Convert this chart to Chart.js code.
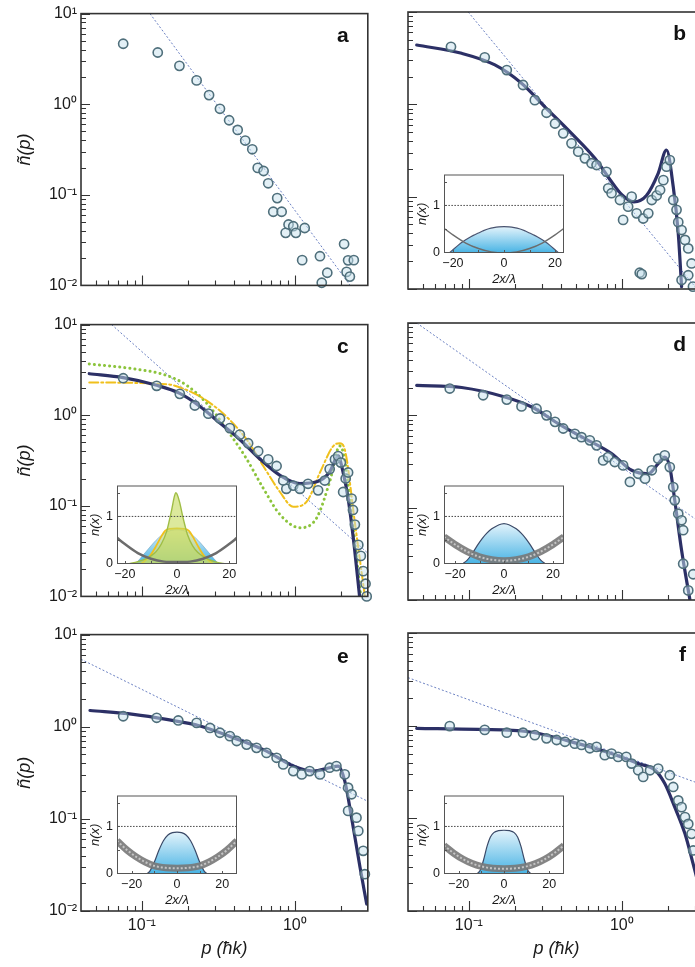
<!DOCTYPE html>
<html>
<head>
<meta charset="utf-8">
<title>Momentum distributions and density profiles</title>
<script src="https://cdn.jsdelivr.net/npm/chart.js@4.4.1/dist/chart.umd.min.js"></script>
<style>
  html, body { margin: 0; padding: 0; background: #fff; }
  body { width: 695px; height: 967px; overflow: hidden; position: relative; }
  canvas { position: absolute; }
</style>
</head>
<body>
<canvas id="mainA"></canvas>
<canvas id="mainB"></canvas>
<canvas id="mainC"></canvas>
<canvas id="mainD"></canvas>
<canvas id="mainE"></canvas>
<canvas id="mainF"></canvas>
<canvas id="insetB"></canvas>
<canvas id="insetC"></canvas>
<canvas id="insetD"></canvas>
<canvas id="insetE"></canvas>
<canvas id="insetF"></canvas>
<script>
// ---------- momentum distributions ñ(p), p in units of ħk ----------
const xMajorTicks = [0.1, 1];
const yMajorTicks = [0.01, 0.1, 1, 10];

// panel a
const dotsA = [[0.0755,4.65],[0.127,3.72],[0.176,2.65],[0.228,1.83],[0.275,1.26],[0.324,0.89],[0.372,0.665],[0.423,0.52],[0.474,0.397],[0.527,0.318],[0.572,0.198],[0.625,0.183],[0.670,0.134],[0.767,0.092],[0.723,0.065],[0.82,0.065],[0.91,0.047],[0.871,0.038],[0.977,0.045],[1.016,0.038],[1.16,0.043],[1.117,0.019],[1.46,0.021],[1.63,0.0138],[1.50,0.0107],[2.10,0.0286],[2.23,0.0189],[2.18,0.0141],[2.43,0.019],[2.29,0.0125]];
const guideA = [[0.113,10],[2.3,0.01]];

// panel b
const dotsB = [[0.0764,4.2],[0.127,3.23],[0.177,2.35],[0.226,1.62],[0.270,1.11],[0.322,0.81],[0.366,0.62],[0.414,0.485],[0.469,0.378],[0.519,0.307],[0.574,0.26],[0.634,0.23],[0.684,0.22],[0.794,0.186],[0.815,0.123],[0.857,0.109],[0.973,0.092],[1.10,0.078],[1.02,0.056],[1.16,0.1],[1.25,0.066],[1.38,0.058],[1.49,0.066],[1.57,0.092],[1.69,0.103],[1.78,0.118],[1.87,0.151],[1.96,0.211],[2.06,0.249],[2.17,0.092],[2.28,0.072],[2.34,0.053],[2.46,0.0435],[2.59,0.034],[2.72,0.0275],[2.86,0.0189],[2.72,0.0141],[2.92,0.0106],[2.46,0.0125],[1.31,0.015],[1.35,0.0145]];
const fitB = [[0.0456,4.39],[0.0897,3.57],[0.148,2.67],[0.221,1.69],[0.314,0.94],[0.469,0.485],[0.667,0.26],[0.857,0.145],[1.0,0.105],[1.2,0.088],[1.45,0.103],[1.73,0.179],[1.96,0.32],[2.17,0.128],[2.34,0.04],[2.46,0.0106]];
const guideB = [[0.099,10],[3.1,0.01]];

// panel c
const dotsC = [[0.0755,2.56],[0.125,2.11],[0.177,1.72],[0.222,1.28],[0.272,1.04],[0.324,0.92],[0.376,0.72],[0.437,0.61],[0.495,0.49],[0.576,0.40],[0.67,0.325],[0.76,0.275],[0.84,0.19],[0.88,0.154],[0.977,0.167],[1.08,0.154],[1.22,0.175],[1.42,0.148],[1.57,0.19],[1.69,0.254],[1.83,0.325],[1.92,0.353],[2.0,0.3],[2.07,0.142],[2.15,0.2],[2.23,0.233],[2.35,0.12],[2.4,0.09],[2.47,0.062],[2.60,0.037],[2.7,0.028],[2.80,0.019],[2.90,0.0138],[2.95,0.01]];
const fitC = [[0.0453,2.87],[0.0755,2.6],[0.125,2.14],[0.177,1.74],[0.24,1.25],[0.324,0.82],[0.437,0.54],[0.591,0.329],[0.8,0.217],[1.08,0.176],[1.39,0.184],[1.69,0.236],[1.92,0.357],[2.05,0.25],[2.23,0.121],[2.45,0.035],[2.65,0.01]];
const greenC = [[0.0453,3.68],[0.088,3.25],[0.145,2.75],[0.196,2.14],[0.265,1.36],[0.358,0.70],[0.484,0.329],[0.622,0.156],[0.80,0.080],[1.08,0.0573],[1.39,0.0736],[1.69,0.184],[1.97,0.459],[2.1,0.35],[2.4,0.06],[2.7,0.01]];
const yellowC = [[0.0453,2.3],[0.145,2.2],[0.196,1.9],[0.265,1.45],[0.358,0.96],[0.484,0.54],[0.622,0.275],[0.80,0.142],[0.977,0.0975],[1.19,0.11],[1.46,0.233],[1.78,0.454],[1.97,0.49],[2.12,0.42],[2.47,0.065],[2.87,0.01]];
const guideC = [[0.0634,10],[3,0.03]];

// panel d
const dotsD = [[0.075,1.95],[0.124,1.65],[0.177,1.48],[0.221,1.25],[0.277,1.18],[0.322,1.0],[0.366,0.85],[0.414,0.72],[0.493,0.63],[0.545,0.58],[0.618,0.536],[0.684,0.473],[0.755,0.325],[0.815,0.353],[0.90,0.312],[1.02,0.287],[1.13,0.19],[1.28,0.233],[1.42,0.206],[1.57,0.254],[1.73,0.339],[1.91,0.369],[2.06,0.275],[2.17,0.167],[2.22,0.12],[2.34,0.086],[2.46,0.073],[2.52,0.057],[2.52,0.0247],[2.72,0.0127],[2.93,0.019]];
const fitD = [[0.0456,2.11],[0.0897,2.0],[0.172,1.58],[0.258,1.23],[0.385,0.81],[0.574,0.56],[0.857,0.385],[1.16,0.254],[1.49,0.233],[1.73,0.30],[1.91,0.353],[2.06,0.275],[2.22,0.12],[2.46,0.0345],[2.79,0.01]];
const guideD = [[0.0456,10],[3.5,0.0636]];

// panel e
const dotsE = [[0.0755,1.30],[0.125,1.25],[0.173,1.17],[0.228,1.10],[0.279,0.97],[0.324,0.86],[0.376,0.79],[0.417,0.70],[0.484,0.64],[0.562,0.59],[0.653,0.52],[0.76,0.46],[0.84,0.39],[0.977,0.33],[1.11,0.304],[1.25,0.33],[1.46,0.304],[1.69,0.359],[1.87,0.374],[2.12,0.304],[2.23,0.218],[2.35,0.185],[2.23,0.122],[2.53,0.103],[2.60,0.074],[2.80,0.045],[2.87,0.0251]];
const fitE = [[0.0458,1.50],[0.088,1.36],[0.145,1.20],[0.24,1.02],[0.396,0.76],[0.653,0.544],[0.977,0.374],[1.32,0.33],[1.69,0.359],[1.92,0.374],[2.12,0.258],[2.35,0.103],[2.67,0.0296],[2.95,0.0119]];
const guideE = [[0.04,5.4],[3,0.155]];

// panel f
const dotsF = [[0.075,0.99],[0.127,0.90],[0.177,0.84],[0.226,0.84],[0.27,0.79],[0.322,0.73],[0.375,0.70],[0.425,0.67],[0.493,0.64],[0.545,0.62],[0.618,0.57],[0.684,0.59],[0.774,0.48],[0.857,0.50],[0.946,0.46],[1.07,0.46],[1.16,0.39],[1.28,0.33],[1.38,0.28],[1.53,0.33],[1.73,0.344],[2.06,0.292],[2.17,0.218],[2.34,0.156],[2.46,0.132],[2.59,0.103],[2.72,0.087],[2.86,0.068],[2.93,0.045]];
const fitF = [[0.0456,0.935],[0.115,0.91],[0.245,0.86],[0.519,0.64],[0.857,0.50],[1.28,0.39],[1.65,0.33],[1.91,0.237],[2.22,0.132],[2.59,0.068],[2.93,0.032],[3.3,0.015]];
const guideF = [[0.04,3.3],[3.5,0.225]];

// ---------- in-trap density profiles n(x) vs 2x/λ ----------
const insetXTicks = [-20, 0, 20];
const insetYTicks = [0, 1];
const unitLevel = [[-30,1],[30,1]];

const trapB = [[-23.5,0.52],[-20,0.38],[-15,0.21],[-10,0.095],[-5,0.024],[0,0],[5,0.024],[10,0.095],[15,0.21],[20,0.38],[23.5,0.52]];
const densB = [[-21.5,0],[-20,0.07],[-18,0.16],[-16,0.24],[-14,0.31],[-12,0.37],[-10,0.42],[-8,0.47],[-6,0.51],[-4,0.535],[-2,0.55],[0,0.555],[2,0.55],[4,0.535],[6,0.51],[8,0.47],[10,0.42],[12,0.37],[14,0.31],[16,0.24],[18,0.16],[20,0.07],[21.5,0]];

const trapC = [[-23,0.55],[-20,0.42],[-15,0.23],[-10,0.11],[-5,0.05],[0,0.04],[5,0.05],[10,0.11],[15,0.23],[20,0.42],[23,0.55]];
const blueC = [[-16,0],[-14,0.12],[-12,0.25],[-10,0.38],[-8,0.5],[-6,0.6],[-4,0.67],[-2,0.71],[0,0.72],[2,0.71],[4,0.67],[6,0.6],[8,0.5],[10,0.38],[12,0.25],[14,0.12],[16,0]];
const yellowInC = [[-14,0],[-12,0.08],[-10,0.2],[-8,0.38],[-6,0.58],[-4.5,0.7],[-3,0.74],[0,0.75],[3,0.74],[4.5,0.7],[6,0.58],[8,0.38],[10,0.2],[12,0.08],[14,0]];
const greenInC = [[-19,0],[-17,0.02],[-15,0.05],[-12,0.11],[-10,0.17],[-8,0.26],[-6,0.42],[-4,0.68],[-3,0.9],[-2,1.15],[-1,1.42],[-0.5,1.5],[0,1.47],[1,1.3],[2,1.05],[3,0.82],[4,0.62],[6,0.38],[8,0.24],[10,0.16],[12,0.1],[15,0.04],[17,0.015],[19,0]];

const trapD = [[-24.5,0.57],[-20,0.41],[-15,0.26],[-10,0.15],[-5,0.09],[0,0.07],[5,0.09],[10,0.15],[15,0.26],[20,0.41],[24.5,0.57]];
const densD = [[-17,0],[-15,0.08],[-13,0.22],[-11,0.38],[-9,0.53],[-7,0.65],[-5,0.74],[-3,0.8],[-1,0.84],[0,0.85],[1,0.84],[3,0.8],[5,0.74],[7,0.65],[9,0.53],[11,0.38],[13,0.22],[15,0.08],[17,0]];

const trapE = [[-26.5,0.7],[-22,0.5],[-18,0.36],[-14,0.25],[-10,0.17],[-5,0.13],[0,0.12],[5,0.13],[10,0.17],[14,0.25],[18,0.36],[22,0.5],[26.5,0.7]];
const densE = [[-13.5,0],[-12,0.06],[-10,0.25],[-8,0.5],[-6,0.7],[-4,0.82],[-2,0.87],[0,0.88],[2,0.87],[4,0.82],[6,0.7],[8,0.5],[10,0.25],[12,0.06],[13.5,0]];

const trapF = [[-26.5,0.6],[-22,0.43],[-18,0.31],[-14,0.22],[-10,0.16],[-5,0.12],[0,0.11],[5,0.12],[10,0.16],[14,0.22],[18,0.31],[22,0.43],[26.5,0.6]];
const densF = [[-12,0],[-10.5,0.08],[-9,0.3],[-7.5,0.58],[-6,0.78],[-4.5,0.87],[-2.5,0.91],[0,0.92],[2.5,0.91],[4.5,0.87],[6,0.78],[7.5,0.58],[9,0.3],[10.5,0.08],[12,0]];

// ---------- styling ----------
const FONT = "'Liberation Sans', Arial, Helvetica, sans-serif";
Chart.defaults.font.family = FONT;
Chart.defaults.color = '#1a1a1a';
Chart.defaults.animation = false;

const NAVY = '#2c3066';
const DOT_EDGE = '#4f6f7b';
const DOT_FILL = 'rgba(200,226,238,0.5)';
const GUIDE = '#6b80c2';
const GREEN = '#8cc43c';
const YELLOW = '#f0c01c';

const SUP = {'-':'\u207B','0':'\u2070','1':'\u00B9','2':'\u00B2','3':'\u00B3'};
function decadeLabel(v) {
  const e = Math.round(Math.log10(v));
  return '10' + String(e).split('').map(c => SUP[c]).join('');
}
const xy = arr => arr.map(([x, y]) => ({x, y}));

function dotsSet(arr) {
  return { data: xy(arr), showLine: false, pointRadius: 4.6, pointBorderWidth: 1.6,
           pointBorderColor: DOT_EDGE, pointBackgroundColor: DOT_FILL, clip: 6 };
}
function curveSet(arr, color, width, dash) {
  return { data: xy(arr), showLine: true, pointRadius: 0, borderColor: color, borderWidth: width,
           borderDash: dash || [], borderCapStyle: 'round', cubicInterpolationMode: 'monotone',
           fill: false, clip: 0 };
}
function guideSet(arr) {
  return { data: xy(arr), showLine: true, pointRadius: 0, borderColor: GUIDE, borderWidth: 1,
           borderDash: [2, 2], tension: 0, fill: false, clip: 0 };
}

// frame, inward log ticks and panel letter
function panelFrame(letter) {
  return {
    id: 'panelFrame',
    afterDatasetsDraw(chart) {
      const {ctx, chartArea: a} = chart;
      const xs = chart.scales.x, ys = chart.scales.y;
      ctx.save();
      ctx.strokeStyle = '#333';
      ctx.lineWidth = 1.1;
      ctx.beginPath();
      for (let e = -2; e <= 1; e++) for (let m = 1; m < 10; m++) {
        const v = m * Math.pow(10, e);
        if (v < ys.min || v > ys.max) continue;
        const py = Math.round(ys.getPixelForValue(v)) + 0.5;
        const len = m === 1 ? 9 : 5;
        ctx.moveTo(a.left, py); ctx.lineTo(a.left + len, py);
      }
      for (let e = -2; e <= 0; e++) for (let m = 1; m < 10; m++) {
        const v = m * Math.pow(10, e);
        if (v <= xs.min || v >= xs.max) continue;
        const px = Math.round(xs.getPixelForValue(v)) + 0.5;
        const len = m === 1 ? 10 : 5;
        ctx.moveTo(px, a.bottom); ctx.lineTo(px, a.bottom - len);
      }
      ctx.stroke();
      ctx.lineWidth = 1.6;
      ctx.strokeRect(a.left, a.top, a.right - a.left, a.bottom - a.top);
      ctx.fillStyle = '#111';
      ctx.font = 'bold 21px ' + FONT;
      ctx.textAlign = 'right';
      ctx.textBaseline = 'alphabetic';
      ctx.fillText(letter, a.right - 19, a.top + 28);
      ctx.restore();
    }
  };
}

const COLS = [
  { canvasLeft: 0,   axisW: 81, plotW: 287, padR: 6,  xMax: 3.0 },
  { canvasLeft: 375, axisW: 33, plotW: 297, padR: 10, xMax: 3.5 }
];
const ROWS = [
  { canvasTop: 0,   plotH: 277, axisH: 10 },
  { canvasTop: 311, plotH: 277, axisH: 10 },
  { canvasTop: 621, plotH: 278, axisH: 56 }
];

function sizeCanvas(cv, left, top, w, h) {
  cv.width = w; cv.height = h;
  cv.style.left = left + 'px'; cv.style.top = top + 'px';
  cv.style.width = w + 'px'; cv.style.height = h + 'px';
}

function mainPanel(id, col, row, letter, datasets) {
  const c = COLS[col], r = ROWS[row];
  const showY = col === 0, showX = row === 2;
  const cv = document.getElementById(id);
  const w = c.axisW + c.plotW + c.padR;
  const h = 12 + r.plotH + r.axisH;
  sizeCanvas(cv, c.canvasLeft, r.canvasTop, w, h);
  return new Chart(cv, {
    type: 'scatter',
    data: { datasets },
    plugins: [panelFrame(letter)],
    options: {
      responsive: false, maintainAspectRatio: false, devicePixelRatio: 1, events: [],
      layout: { padding: { top: 12, right: c.padR, left: 0, bottom: 0 } },
      plugins: { legend: { display: false }, tooltip: { enabled: false } },
      scales: {
        x: {
          type: 'logarithmic', min: 0.04, max: c.xMax, position: 'bottom',
          grid: { display: false, drawTicks: false }, border: { display: false },
          ticks: { display: showX, autoSkip: false, maxRotation: 0, padding: 5,
                   font: { size: 16 }, color: '#1a1a1a', callback: v => decadeLabel(v) },
          afterBuildTicks: s => { s.ticks = xMajorTicks.map(v => ({ value: v })); },
          afterFit: s => { s.height = r.axisH; },
          title: { display: showX, text: 'p (ħk)', font: { size: 18, style: 'italic' },
                   color: '#1a1a1a', padding: { top: 0, bottom: 7 } }
        },
        y: {
          type: 'logarithmic', min: 0.01, max: 10, position: 'left',
          grid: { display: false, drawTicks: false }, border: { display: false },
          ticks: { display: showY, autoSkip: false, padding: 4,
                   font: { size: 16 }, color: '#1a1a1a', callback: v => decadeLabel(v) },
          afterBuildTicks: s => { s.ticks = yMajorTicks.map(v => ({ value: v })); },
          afterFit: s => { s.width = c.axisW; },
          title: { display: showY, text: 'ñ(p)', font: { size: 18, style: 'italic' },
                   color: '#1a1a1a', padding: { top: 14, bottom: 0 } }
        }
      }
    }
  });
}

// ---------- insets ----------
function insetFrame() {
  return {
    id: 'insetFrame',
    beforeDatasetsDraw(chart) {
      const {ctx, chartArea: a} = chart;
      ctx.save(); ctx.fillStyle = '#fff';
      ctx.fillRect(a.left, a.top, a.right - a.left, a.bottom - a.top);
      ctx.restore();
    },
    afterDatasetsDraw(chart) {
      const {ctx, chartArea: a} = chart;
      const xs = chart.scales.x, ys = chart.scales.y;
      ctx.save();
      ctx.strokeStyle = '#555'; ctx.lineWidth = 1;
      ctx.beginPath();
      for (const v of [-20, -10, 0, 10, 20]) {
        const px = Math.round(xs.getPixelForValue(v)) + 0.5;
        ctx.moveTo(px, a.bottom); ctx.lineTo(px, a.bottom - 3);
      }
      for (const v of [0.5, 1, 1.5]) {
        const py = Math.round(ys.getPixelForValue(v)) + 0.5;
        ctx.moveTo(a.left, py); ctx.lineTo(a.left + 3, py);
      }
      ctx.stroke();
      ctx.strokeRect(a.left + 0.5, a.top + 0.5, a.right - a.left - 1, a.bottom - a.top - 1);
      ctx.restore();
    }
  };
}

function blueGradient(arr) {
  const peak = Math.max(...arr.map(p => p[1]));
  return (context) => {
    const ch = context.chart;
    if (!ch.chartArea) return 'rgba(120,200,235,0.6)';
    const y0 = ch.scales.y.getPixelForValue(0);
    const y1 = ch.scales.y.getPixelForValue(peak);
    const g = ch.ctx.createLinearGradient(0, y1, 0, y0);
    g.addColorStop(0, '#e3f3fb');
    g.addColorStop(1, '#47b3e4');
    return g;
  };
}
function levelSet() {
  return { data: xy(unitLevel), showLine: true, pointRadius: 0, borderColor: '#444',
           borderWidth: 1, borderDash: [1.5, 1.5], tension: 0, clip: 0 };
}
function thinTrap(arr, width) {
  return { data: xy(arr), showLine: true, pointRadius: 0, borderColor: '#6c6c6c',
           borderWidth: width, cubicInterpolationMode: 'monotone', clip: 0 };
}
function bandTrap(arr) {
  return [
    { data: xy(arr), showLine: true, pointRadius: 0, borderColor: 'rgba(200,200,200,0.95)',
      borderWidth: 2, borderDash: [2, 2], cubicInterpolationMode: 'monotone', clip: 0 },
    { data: xy(arr), showLine: true, pointRadius: 0, borderColor: 'rgba(120,120,120,0.9)',
      borderWidth: 7, cubicInterpolationMode: 'monotone', clip: 0 }
  ];
}
function domeSet(arr, edge, fillColor, width) {
  return { data: xy(arr), showLine: true, pointRadius: 0, borderColor: edge, borderWidth: width || 1.2,
           backgroundColor: fillColor || blueGradient(arr), fill: 'origin',
           cubicInterpolationMode: 'monotone', clip: 0 };
}

function insetPanel(id, col, row, halfRange, datasets) {
  const c = COLS[col], r = ROWS[row];
  const frameLeft = c.canvasLeft + c.axisW + 36;
  const frameTop = r.canvasTop + 12 + 155;
  const cv = document.getElementById(id);
  sizeCanvas(cv, frameLeft - 42, frameTop - 4, 168, 124);
  return new Chart(cv, {
    type: 'scatter',
    data: { datasets },
    plugins: [insetFrame()],
    options: {
      responsive: false, maintainAspectRatio: false, devicePixelRatio: 1, events: [],
      layout: { padding: { top: 4, right: 6, left: 0, bottom: 0 } },
      plugins: { legend: { display: false }, tooltip: { enabled: false } },
      scales: {
        x: {
          type: 'linear', min: -halfRange, max: halfRange,
          grid: { display: false, drawTicks: false }, border: { display: false },
          ticks: { autoSkip: false, maxRotation: 0, padding: 3, font: { size: 12.5 }, color: '#1a1a1a',
                   callback: v => (v < 0 ? '\u2212' + Math.abs(v) : String(v)) },
          afterBuildTicks: s => { s.ticks = insetXTicks.map(v => ({ value: v })); },
          afterFit: s => { s.height = 34; },
          title: { display: true, text: '2x/λ', font: { size: 13, style: 'italic' },
                   color: '#1a1a1a', padding: { top: 0, bottom: 0 } }
        },
        y: {
          type: 'linear', min: 0, max: 1.65,
          grid: { display: false, drawTicks: false }, border: { display: false },
          ticks: { autoSkip: false, padding: 4, font: { size: 12.5 }, color: '#1a1a1a' },
          afterBuildTicks: s => { s.ticks = insetYTicks.map(v => ({ value: v })); },
          afterFit: s => { s.width = 42; },
          title: { display: true, text: 'n(x)', font: { size: 13, style: 'italic' },
                   color: '#1a1a1a', padding: { top: 13, bottom: 0 } }
        }
      }
    }
  });
}

// ---------- build panels ----------
mainPanel('mainA', 0, 0, 'a', [dotsSet(dotsA), guideSet(guideA)]);
mainPanel('mainB', 1, 0, 'b', [dotsSet(dotsB), curveSet(fitB, NAVY, 3.2), guideSet(guideB)]);
mainPanel('mainC', 0, 1, 'c', [
  dotsSet(dotsC), curveSet(fitC, NAVY, 3.2),
  curveSet(yellowC, YELLOW, 2, [9, 3, 2, 3]), curveSet(greenC, GREEN, 3, [0.1, 5]),
  guideSet(guideC)
]);
mainPanel('mainD', 1, 1, 'd', [dotsSet(dotsD), curveSet(fitD, NAVY, 3.2), guideSet(guideD)]);
mainPanel('mainE', 0, 2, 'e', [dotsSet(dotsE), curveSet(fitE, NAVY, 3.2), guideSet(guideE)]);
mainPanel('mainF', 1, 2, 'f', [dotsSet(dotsF), curveSet(fitF, NAVY, 3.2), guideSet(guideF)]);

insetPanel('insetB', 1, 0, 23.5, [levelSet(), thinTrap(trapB, 1.4), domeSet(densB, '#4a5470')]);
insetPanel('insetC', 0, 1, 23, [
  levelSet(), thinTrap(trapC, 2.5),
  domeSet(greenInC, '#9fbd45', 'rgba(196,218,90,0.6)', 1.4),
  domeSet(yellowInC, YELLOW, 'rgba(232,226,110,0.5)', 1.8),
  domeSet(blueC, 'rgba(120,170,200,0.7)', null, 1)
]);
insetPanel('insetD', 1, 1, 24.5, [levelSet(), ...bandTrap(trapD), domeSet(densD, '#3b4a68')]);
insetPanel('insetE', 0, 2, 26.5, [levelSet(), ...bandTrap(trapE), domeSet(densE, '#3b4a68')]);
insetPanel('insetF', 1, 2, 26.5, [levelSet(), ...bandTrap(trapF), domeSet(densF, '#3b4a68')]);
</script>
</body>
</html>
